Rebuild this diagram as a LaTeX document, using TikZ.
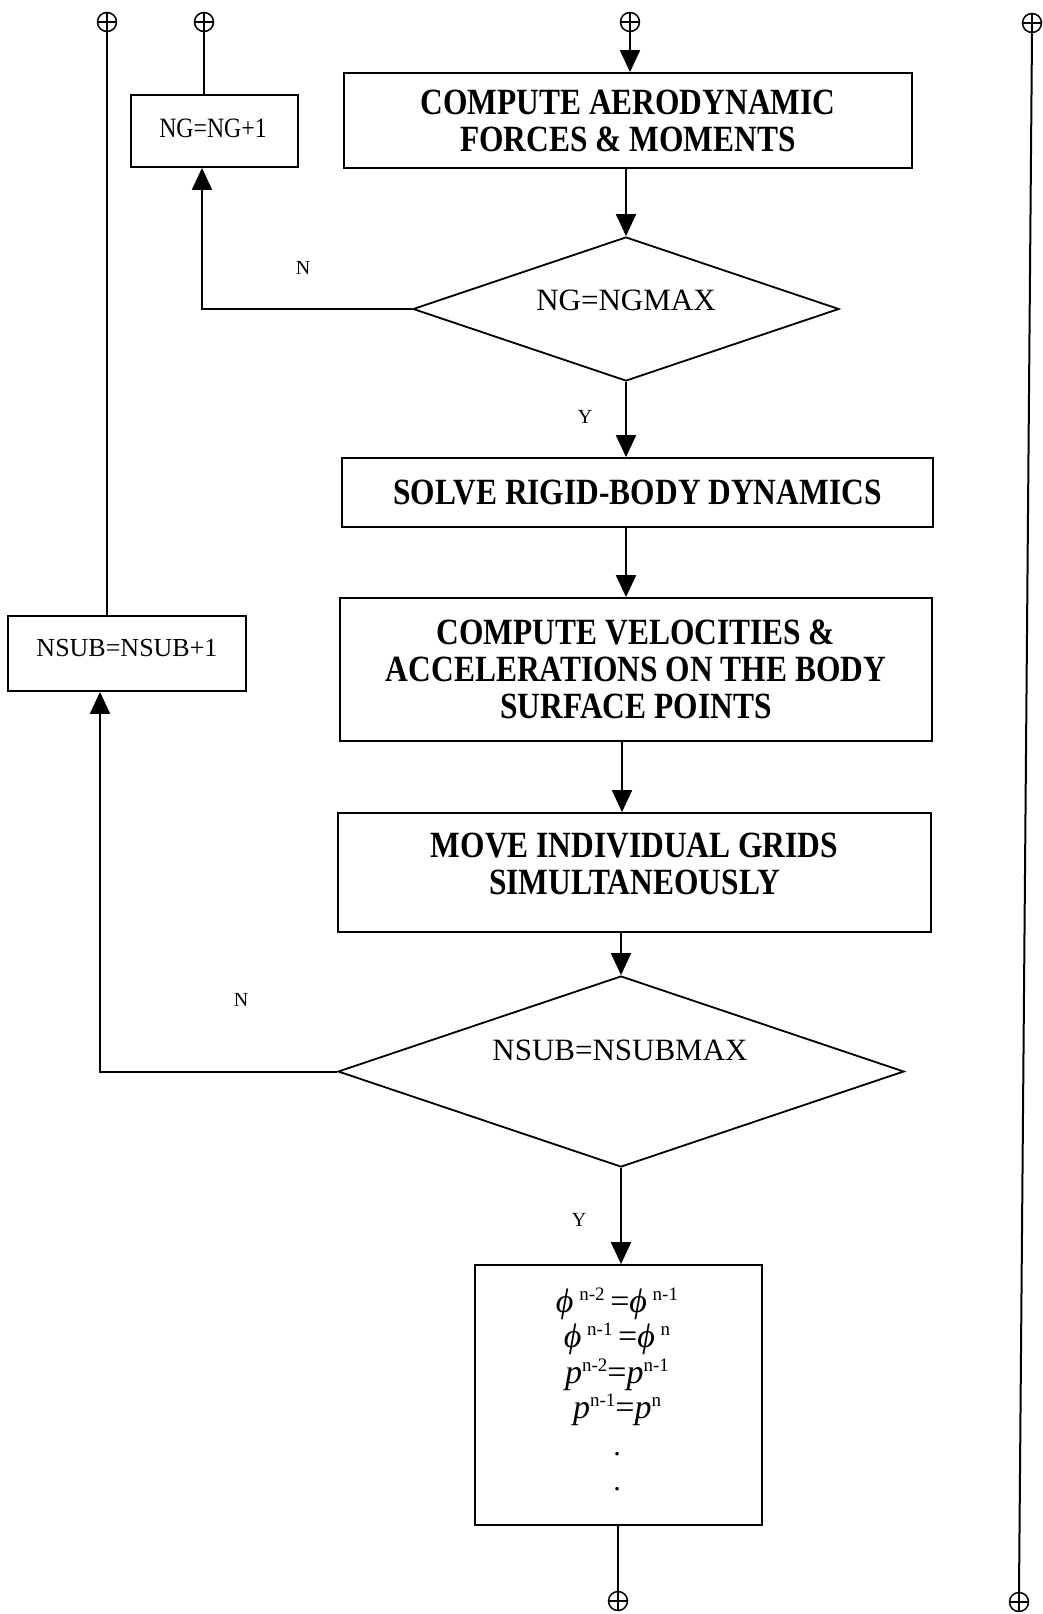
\documentclass[tikz,border=0pt]{standalone}
\usepackage{fontspec}
\setmainfont{Liberation Serif}
\newfontfamily\bcond[FakeStretch=0.85]{Liberation Serif}
\newfontfamily\ncond[FakeStretch=0.85]{Liberation Serif}
\usetikzlibrary{arrows.meta,shapes.geometric}
\newcommand\upx[1]{\raisebox{12pt}{\fontsize{19}{19}\selectfont #1}}
\begin{document}
\begin{tikzpicture}[x=1pt,y=-1pt,
  box/.style={draw, line width=1.8pt, inner sep=0pt, align=center},
  btxt/.style={font=\bcond\bfseries\fontsize{37}{37}\selectfont},
  dia/.style={draw, diamond, line width=1.8pt, inner sep=0pt},
  arr/.style={-{Triangle[width=20pt,length=22pt]}, line width=2pt},
  ln/.style={line width=2pt},
  conn/.style={circle, draw, line width=1.5pt, minimum size=19pt, inner sep=0pt,
    path picture={\draw[line width=1.5pt] (path picture bounding box.north) -- (path picture bounding box.south)
      (path picture bounding box.west) -- (path picture bounding box.east);}},
  lbl/.style={font=\fontsize{20}{20}\selectfont}]
\useasboundingbox (0,0) rectangle (1042,1614);

% connectors
\node[conn] (c1) at (107,22) {};
\node[conn] (c2) at (204,22) {};
\node[conn] (c3) at (630,22) {};
\node[conn] (c4) at (1032,23) {};
\node[conn] (c5) at (618,1601) {};
\node[conn] (c6) at (1019,1602) {};

% boxes
\node[box, btxt, minimum width=568pt, minimum height=95pt] (aero) at (628,120.5)
  {COMPUTE AERODYNAMIC\\FORCES \& MOMENTS};
\node[box, minimum width=167pt, minimum height=72pt] (ngbox) at (214.5,131) {};
\node (ngtxt) at (213,128) {\ncond\fontsize{28}{28}\selectfont NG=NG+1};
\node[dia, minimum width=426pt, minimum height=144pt] (d1) at (626,309) {};
\node[font=\fontsize{31}{31}\selectfont] (d1t) at (626,300) {NG=NGMAX};
\node[box, btxt, minimum width=591pt, minimum height=69pt] (solve) at (637.5,492.5)
  {SOLVE RIGID-BODY DYNAMICS};
\node[box, btxt, minimum width=592pt, minimum height=143pt] (vel) at (636,669.5)
  {COMPUTE VELOCITIES \&\\ACCELERATIONS ON THE BODY\\SURFACE POINTS};
\node[box, btxt, minimum width=593pt, minimum height=119pt] (move) at (634.5,872.5) {};
\node[btxt, align=center] (movet) at (634.5,864) {MOVE INDIVIDUAL GRIDS\\SIMULTANEOUSLY};
\node[dia, minimum width=566pt, minimum height=191pt] (d2) at (621,1071.5) {};
\node[font=\fontsize{31}{31}\selectfont] (d2t) at (620,1050) {NSUB=NSUBMAX};
\node[box, minimum width=238pt, minimum height=75pt] (nsub) at (127,653.5) {};
\node (nsubt) at (127,648) {\fontsize{26}{26}\selectfont NSUB=NSUB+1};
\node[box, minimum width=287pt, minimum height=260pt] (phi) at (618.5,1395) {};
\node[align=center, font=\fontsize{34}{35.5}\selectfont] (phit) at (617,1357) {%
{\itshape ϕ}\,\upx{n-2}\,={\itshape ϕ}\,\upx{n-1}\\
{\itshape ϕ}\,\upx{n-1}\,={\itshape ϕ}\,\upx{n}\\
{\itshape p}\upx{n-2}={\itshape p}\upx{n-1}\\
{\itshape p}\upx{n-1}={\itshape p}\upx{n}};
\node[align=center, font=\fontsize{30}{35}\selectfont] (dots) at (617,1472) {.\\.};

% labels
\node[lbl] (n1) at (303,268) {N};
\node[lbl] (y1) at (585,417) {Y};
\node[lbl] (n2) at (241,1000) {N};
\node[lbl] (y2) at (579,1220) {Y};

% helper x positions
\coordinate (xa) at (626,0);
\coordinate (xb) at (622,0);

% main flow
\draw[arr] (c3.south) -- (c3.south |- aero.north);
\draw[arr] (d1.north |- aero.south) -- (d1.north);
\draw[arr] (d1.south) -- (d1.south |- solve.north);
\draw[arr] (xa |- solve.south) -- (xa |- vel.north);
\draw[arr] (xb |- vel.south) -- (xb |- move.north);
\draw[arr] (d2.north |- move.south) -- (d2.north);
\draw[arr] (d2.south) -- (d2.south |- phi.north);
\draw[ln] (c5.north |- phi.south) -- (c5.north);

% loops
\draw[arr] (d1.west) -| ([xshift=-12.5pt]ngbox.south);
\draw[ln] (c2.south) -- (c2.south |- ngbox.north);
\draw[arr] (d2.west) -| ([xshift=-27pt]nsub.south);
\draw[ln] (c1.south) -- (c1.south |- nsub.north);
\draw[ln] (c4.south) -- (c6.north);
\end{tikzpicture}
\end{document}
